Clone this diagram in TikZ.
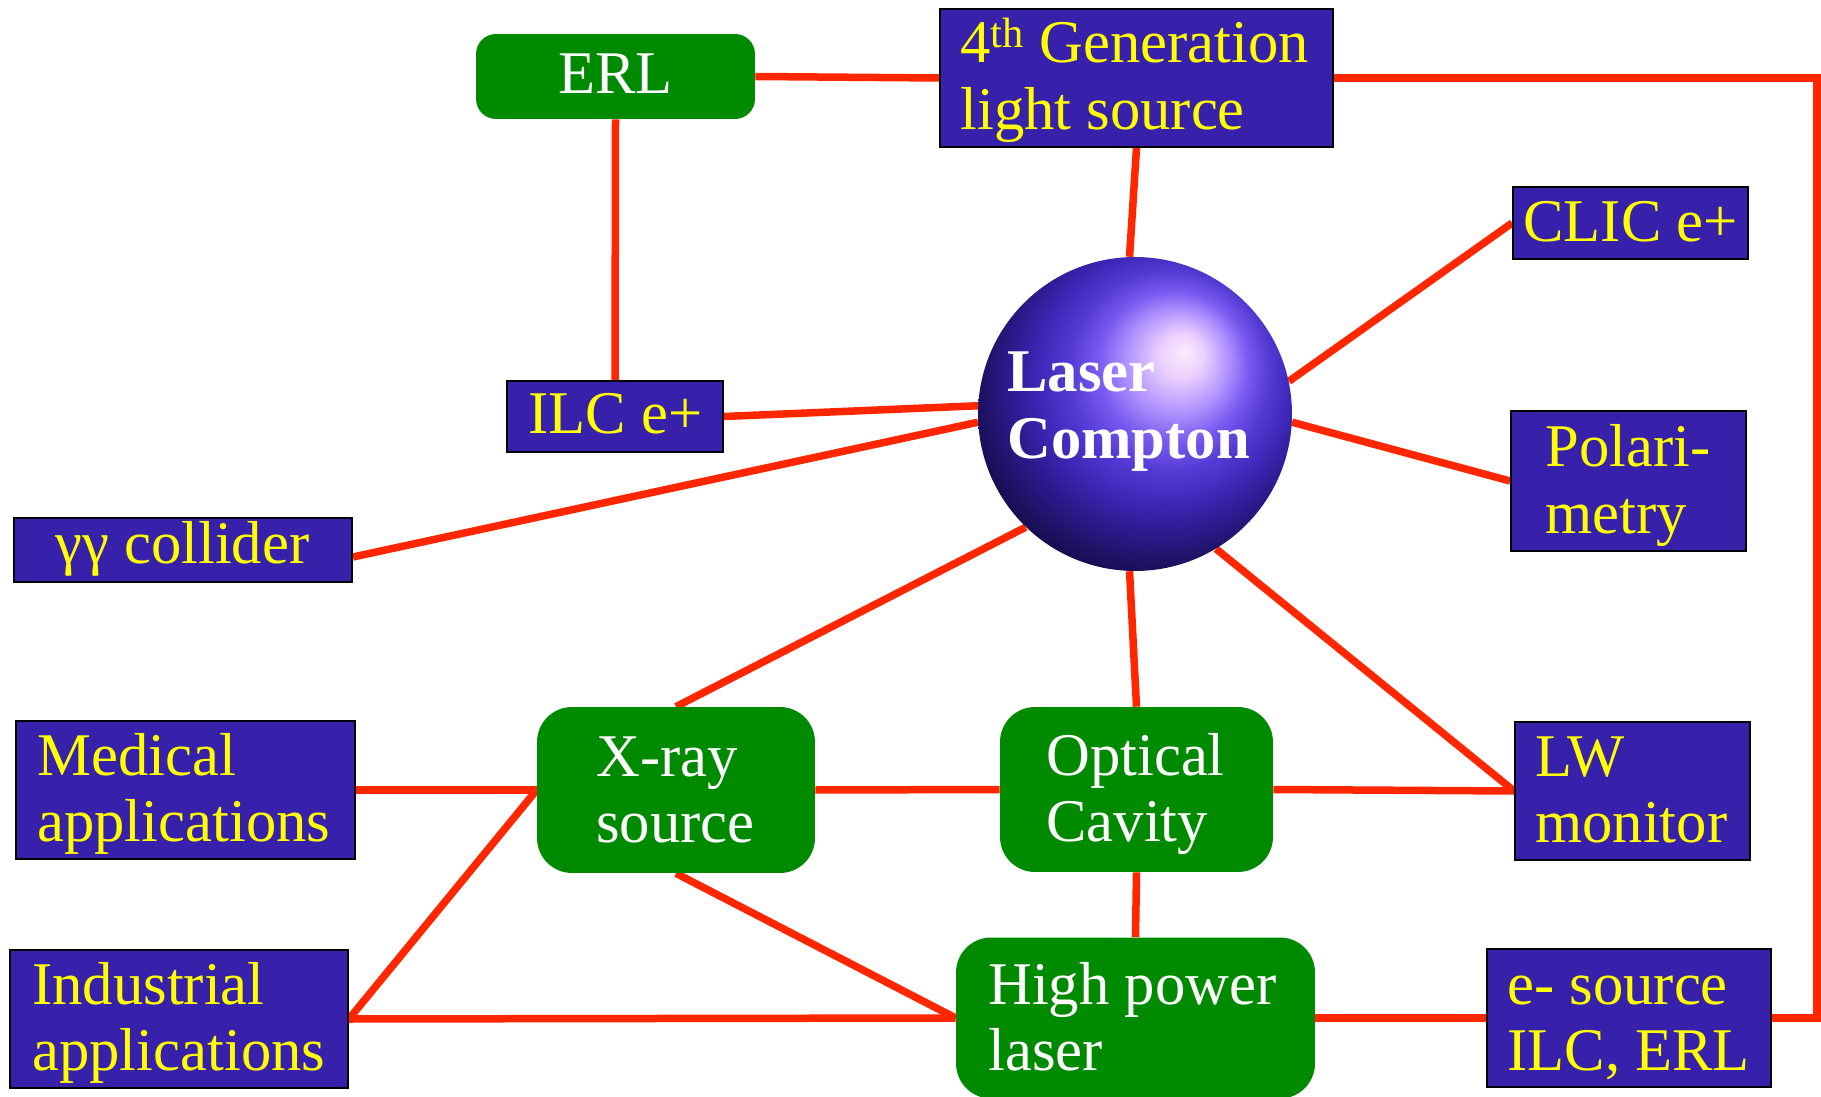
\documentclass[tikz,border=0pt]{standalone}
\usepackage{fontspec}
\setmainfont{Liberation Serif}
\usetikzlibrary{backgrounds}
\definecolor{boxblue}{RGB}{55,33,170}
\definecolor{boxgreen}{RGB}{0,138,0}
\definecolor{linkred}{RGB}{255,38,0}
\definecolor{txtyellow}{RGB}{255,255,0}
\definecolor{sA}{RGB}{252,236,252}
\definecolor{sB}{RGB}{236,208,255}
\definecolor{sC}{RGB}{178,148,255}
\definecolor{sD}{RGB}{120,90,240}
\definecolor{sE}{RGB}{84,58,212}
\definecolor{sF}{RGB}{62,40,185}
\definecolor{sG}{RGB}{45,27,145}
\definecolor{sH}{RGB}{30,18,100}
\definecolor{sI}{RGB}{20,11,72}
\pgfdeclareradialshading{lcball}{\pgfpoint{8bp}{10bp}}{%
 color(0bp)=(sA); color(3.5bp)=(sB); color(8bp)=(sC); color(12bp)=(sD);
 color(16bp)=(sE); color(20bp)=(sF); color(24bp)=(sG); color(28bp)=(sH);
 color(31bp)=(sI); color(50bp)=(sI)}
\newcommand\twolines[2]{\vtop{\hbox{#1}\hbox{#2}}}
\newcommand\bigfont{\fontsize{34.5}{37.6}\selectfont}
\begin{document}
\begin{tikzpicture}[x=0.02cm, y=-0.02cm,
  bluebox/.style={draw=black, line width=1.1pt, fill=boxblue, inner sep=0pt},
  greenbox/.style={fill=boxgreen, inner sep=0pt, rounded corners=0.7cm},
  link/.style={draw=linkred, line width=0.15cm},
  ytxt/.style={text=txtyellow, inner sep=0pt, anchor=base west, font=\bigfont},
  wtxt/.style={text=white, inner sep=0pt, anchor=base west, font=\bigfont},
]
\useasboundingbox (0,0) rectangle (1821,1097);

% boxes
\node[bluebox, minimum width=7.86cm, minimum height=2.76cm] (gen) at (1136.5,78) {};
\node[greenbox, rounded corners=0.4cm, minimum width=5.58cm, minimum height=1.70cm] (erl) at (615.5,76.5) {};
\node[bluebox, minimum width=4.32cm, minimum height=1.42cm] (ilc) at (615,416.5) {};
\node[bluebox, minimum width=6.76cm, minimum height=1.28cm] (gg) at (183,550) {};
\node[bluebox, minimum width=4.70cm, minimum height=1.44cm] (clic) at (1630.5,223) {};
\node[bluebox, minimum width=4.70cm, minimum height=2.80cm] (pol) at (1628.5,481) {};
\node[bluebox, minimum width=6.78cm, minimum height=2.76cm] (med) at (185.5,790) {};
\node[greenbox, minimum width=5.56cm, minimum height=3.32cm] (xr) at (676,790) {};
\node[greenbox, minimum width=5.46cm, minimum height=3.30cm] (oc) at (1136.5,789.5) {};
\node[bluebox, minimum width=4.70cm, minimum height=2.76cm] (lw) at (1632.5,791) {};
\node[bluebox, minimum width=6.76cm, minimum height=2.76cm] (ind) at (179,1019) {};
\node[greenbox, minimum width=7.18cm, minimum height=3.22cm] (hpl) at (1135.5,1018) {};
\node[bluebox, minimum width=5.68cm, minimum height=2.76cm] (es) at (1629,1018) {};
\node[circle, minimum size=6.28cm, inner sep=0pt, shade, shading=lcball] (lc) at (1135,414) {};
\coordinate (rc) at (1817,500);

% texts
\node[ytxt] (gent) at (960,63) {\twolines{4\textsuperscript{th} Generation}{light source}};
\node[wtxt, anchor=base] (erlt) at (615.5,94) {ERL};
\node[ytxt] (ilct) at (528,434) {ILC e+};
\node[ytxt] (ggt) at (55,563) {γγ collider};
\node[ytxt] (clict) at (1523,242) {CLIC e+};
\node[ytxt] (polt) at (1545,467) {\twolines{Polari-}{metry}};
\node[wtxt, font=\bigfont\bfseries] (lct) at (1007,392) {\twolines{Laser}{Compton}};
\node[ytxt] (medt) at (37,775) {\twolines{Medical}{applications}};
\node[wtxt] (xrt) at (596,776) {\twolines{X-ray}{source}};
\node[wtxt] (oct) at (1046,775) {\twolines{Optical}{Cavity}};
\node[ytxt] (lwt) at (1535,776) {\twolines{LW}{monitor}};
\node[ytxt] (indt) at (32,1004) {\twolines{Industrial}{applications}};
\node[wtxt] (hplt) at (988,1004) {\twolines{High power}{laser}};
\node[ytxt] (est) at (1507,1004) {\twolines{e- source}{ILC, ERL}};

% connectors
\begin{pgfonlayer}{background}
\draw[link] (erl.east) -- (gen.west);
\draw[link] (erl.south) -- (ilc.north);
\draw[link] (gen.east) -| (rc) |- (es.east);
\draw[link] (gen.south) -- (lc.92);
\draw[link] (clic.west) -- (lc.12);
\draw[link] (pol.west) -- (lc.-3);
\draw[link] (ilc.east) -- (lc.177);
\draw[link] ([yshift=-0.14cm]gg.east) -- (lc.183);
\draw[link] (xr.north) -- (lc.226);
\draw[link] (oc.north) -- (lc.268);
\draw[link] (lw.west) -- (lc.-59);
\draw[link] (med.east) -- (xr.west);
\draw[link] (xr.east) -- (oc.west);
\draw[link] (oc.east) -- (lw.west);
\draw[link] (oc.south) -- (hpl.north);
\draw[link] (xr.south) -- (hpl.west);
\draw[link] (xr.west) -- (ind.east);
\draw[link] (ind.east) -- (hpl.west);
\draw[link] (hpl.east) -- (es.west);
\end{pgfonlayer}
\end{tikzpicture}
\end{document}
